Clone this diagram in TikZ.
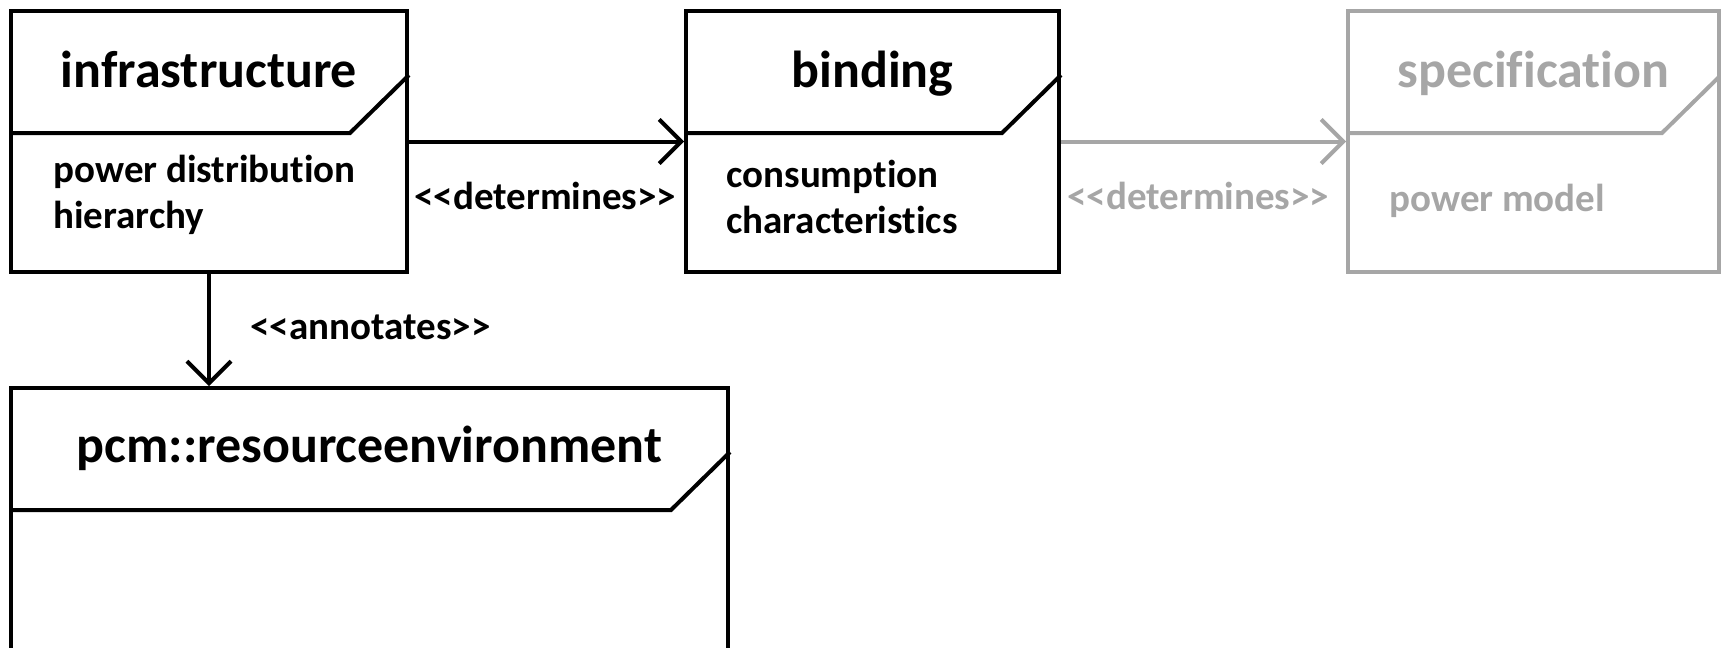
\documentclass[tikz,border=0pt]{standalone}
\usepackage{fontspec}
\setmainfont{Carlito}[Ligatures=NoCommon, RawFeature={-calt;-dlig}]
\usetikzlibrary{arrows.meta}
\definecolor{fade}{HTML}{A6A6A6}

\tikzset{
  pkg/.style={draw, line width=2pt, rectangle, inner sep=0pt},
  sepline/.style={line width=2pt},
  pkgtitle/.style={font=\bfseries\fontsize{26}{31}\selectfont, anchor=base, inner sep=0pt},
  pkgbody/.style={font=\bfseries\fontsize{19.5}{23}\selectfont, anchor=base west, align=left, inner sep=0pt},
  stereo/.style={font=\bfseries\fontsize{19.5}{23}\selectfont, anchor=base west, inner sep=0pt},
  dep/.style={line width=2pt, -{Straight Barb[length=11pt,width=22pt]}},
  faded/.style={draw=fade, text=fade},
}

% header separator with the folded corner of a UML package
\newcommand{\pkghead}[2][]{%
  \draw[sepline,#1] ([yshift=-62pt]#2.north west) -- ([xshift=-29.5pt,yshift=-62pt]#2.north east) -- ([yshift=-33pt]#2.north east);}
% stereotype brackets, kept as two separate characters
\newcommand{\stl}{<\kern0pt<}
\newcommand{\str}{>\kern0pt>}

\begin{document}
\begin{tikzpicture}[x=0.5pt,y=-0.5pt]
  \useasboundingbox (0,0) rectangle (1721,648);
  \clip (0,0) rectangle (1721,648);

  % packages
  \node[pkg, minimum width=198pt, minimum height=130.5pt] (infra) at (209,141.5) {};
  \node[pkg, minimum width=186.5pt, minimum height=130.5pt] (binding) at (872.5,141.5) {};
  \node[pkg, faded, minimum width=185.5pt, minimum height=130.5pt] (spec) at (1533.5,141.5) {};
  \node[pkg, minimum width=358.5pt, minimum height=186pt] (pcm) at (369.5,574) {};

  \pkghead{infra}
  \pkghead{binding}
  \pkghead[draw=fade]{spec}
  \pkghead{pcm}

  % package names
  \node[pkgtitle] (infraT) at (209,87) {infrastructure};
  \node[pkgtitle] (bindingT) at (872.5,87) {binding};
  \node[pkgtitle, text=fade] (specT) at (1533.5,87) {specification};
  \node[pkgtitle] (pcmT) at (369.5,462) {pcm::resourceenvironment};

  % package contents (anchored at the baseline of the last line)
  \node[pkgbody] (infraB) at (53,228) {power distribution\\hierarchy};
  \node[pkgbody] (bindingB) at (726,233) {consumption\\characteristics};
  \node[pkgbody, text=fade] (specB) at (1389,211) {power model};

  % dependencies
  \draw[dep] (infra.east) -- (binding.west);
  \draw[dep, draw=fade] (binding.east) -- (spec.west);
  \draw[dep] (infra.south) -- (infra.south |- pcm.north);

  % stereotypes
  \node[stereo] (det1) at (414,209) {\stl determines\str};
  \node[stereo, text=fade] (det2) at (1067,209) {\stl determines\str};
  \node[stereo] (ann) at (250,339) {\stl annotates\str};
\end{tikzpicture}
\end{document}
